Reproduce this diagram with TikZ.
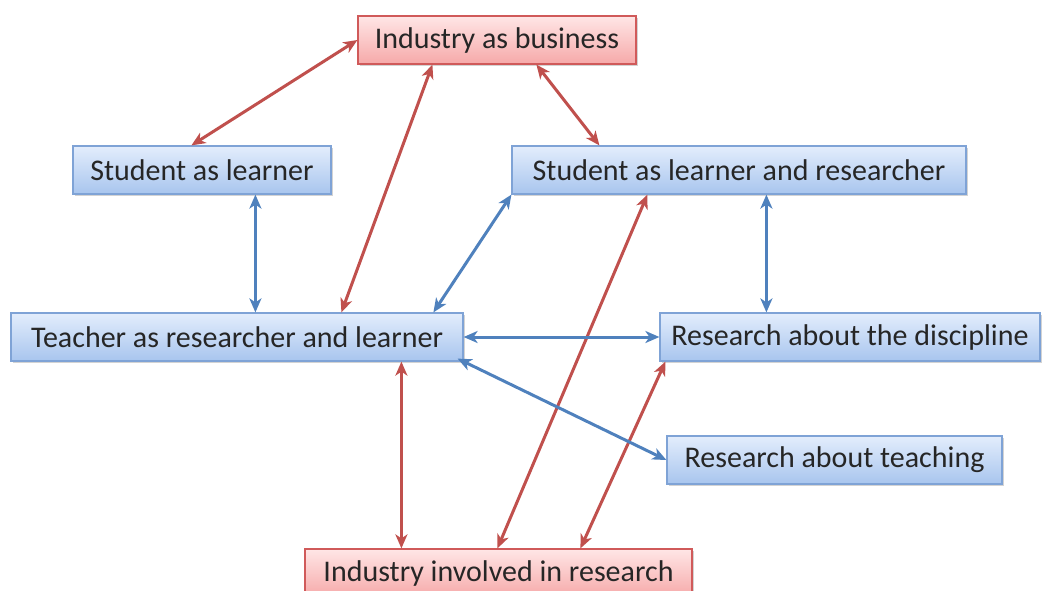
\documentclass[tikz,border=0pt]{standalone}
\usepackage{fontspec}
\setmainfont{Carlito}
\usetikzlibrary{arrows.meta,shadows,calc}
\definecolor{bluebd}{HTML}{7FA3D6}
\definecolor{bluetop}{HTML}{E3EDFC}
\definecolor{bluebot}{HTML}{A8C5EE}
\definecolor{redbd}{HTML}{D05A5A}
\definecolor{redtop}{HTML}{FFE6E6}
\definecolor{redbot}{HTML}{F6A9A9}
\definecolor{redarr}{HTML}{C0504D}
\definecolor{bluearr}{HTML}{4F81BD}
\tikzset{
  box/.style={draw, line width=1.2pt, minimum height=48pt, inner sep=0pt,
    font=\fontsize{30}{34}\selectfont, text=black!85,
    drop shadow={shadow xshift=1.5pt, shadow yshift=-2pt, opacity=0.35, fill=black!50}},
  bbox/.style={box, draw=bluebd, top color=bluetop, bottom color=bluebot},
  rbox/.style={box, draw=redbd, top color=redtop, bottom color=redbot},
  conn/.style={line width=3pt, {Stealth[length=14pt,width=12pt,inset=4pt]}-{Stealth[length=14pt,width=12pt,inset=4pt]}},
  rarr/.style={conn, draw=redarr},
  barr/.style={conn, draw=bluearr}
}
\begin{document}
\begin{tikzpicture}[x=1pt,y=-1pt]
\useasboundingbox (0,0) rectangle (1043,590);
\node[rbox, minimum width=278pt] (ib) at (497,40) {Industry as business};
\node[bbox, minimum width=258pt] (sl) at (202,170) {Student as learner};
\node[bbox, minimum width=454pt] (slr) at (739,170) {Student as learner and researcher};
\node[bbox, minimum width=452pt] (tr) at (237,337) {Teacher as researcher and learner};
\node[bbox, minimum width=380pt] (rd) at (850,337) {Research about the discipline};
\node[bbox, minimum width=335pt] (rt) at (834.5,460) {Research about teaching};
\node[rbox, minimum width=387pt] (ir) at (498.5,573) {Industry involved in research};
% red connectors
\draw[rarr] (ib.west) -- ([xshift=119pt]sl.north west);
\draw[rarr] ([xshift=75pt]ib.south west) -- ([xshift=331pt]tr.north west);
\draw[rarr] ([xshift=179pt]ib.south west) -- ([xshift=88pt]slr.north west);
\draw[rarr] ([xshift=391pt]tr.south west) -- ([xshift=97pt]ir.north west);
\draw[rarr] ([xshift=136pt]slr.south west) -- ([xshift=193pt]ir.north west);
\draw[rarr] ([xshift=6pt]rd.south west) -- ([xshift=276pt]ir.north west);
% blue connectors
\draw[barr] ([xshift=183pt]sl.south west) -- ([xshift=245pt]tr.north west);
\draw[barr] (slr.south west) -- ([xshift=423pt]tr.north west);
\draw[barr] (tr.east) -- (rd.west);
\draw[barr] ([xshift=255pt]slr.south west) -- ([xshift=107pt]rd.north west);
\draw[barr] ([xshift=-6pt,yshift=3pt]tr.south east) -- (rt.west);
\end{tikzpicture}
\end{document}
